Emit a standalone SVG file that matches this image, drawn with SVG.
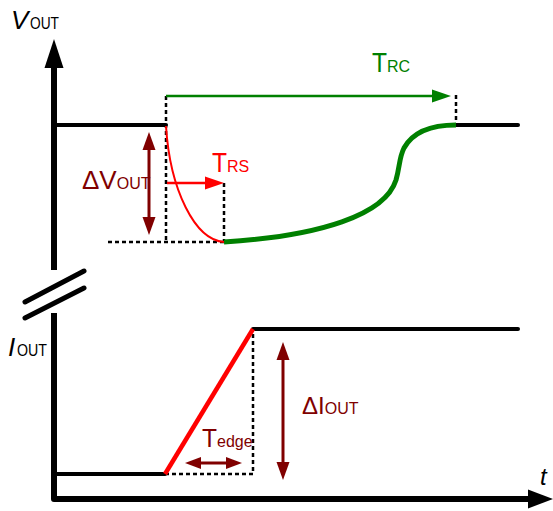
<svg xmlns="http://www.w3.org/2000/svg" width="553" height="511" viewBox="0 0 553 511">
<style>
text{font-family:"Liberation Sans",Arial,sans-serif}
.ax{fill:none;stroke:#000;stroke-width:6;stroke-linejoin:round;stroke-linecap:butt}
.lvl{fill:none;stroke:#000;stroke-width:4;stroke-linecap:round}
.dot{fill:none;stroke:#000;stroke-width:2.5;stroke-dasharray:4 3}
.dr{fill:#800000}
.drl{stroke:#800000;stroke-width:3;fill:none}
.big{font-size:28px}
.sub{font-size:16px}
</style>
<g id="axes">
<path class="ax" d="M54,68 L54,270"/>
<polygon points="54,39 44.5,68 63.5,68" fill="#000"/>
<path class="ax" d="M54,313 L54,499 L530,499"/>
<polygon points="553,499 528,489.5 528,508.5" fill="#000"/>
<path d="M25,302 L84,271 M25,318 L84,288" stroke="#000" stroke-width="5" stroke-linecap="round"/>
<text x="11" y="29" font-size="26" font-style="italic">V</text>
<text x="30" y="29" font-size="16" textLength="29" lengthAdjust="spacingAndGlyphs">OUT</text>
<text x="8" y="356" font-size="26" font-style="italic">I</text>
<text x="17" y="356" font-size="16" textLength="30" lengthAdjust="spacingAndGlyphs">OUT</text>
<text x="540" y="485" font-size="24" font-style="italic">t</text>
</g>
<g id="voltage">
<path class="lvl" d="M56,125 L166,125"/>
<path class="lvl" d="M456,125 L518,125"/>
<path class="dot" d="M166,96 L166,242"/>
<path class="dot" d="M108,242 L224,242"/>
<path class="dot" d="M224,183 L224,242"/>
<path class="dot" d="M456,95 L456,124"/>
<path d="M166,126 C170,190 195,240 224,242" fill="none" stroke="#ff0000" stroke-width="2"/>
<path d="M224,242 C320,236 385,215 396,180 C400,166 399,158 404,148 C414,130 436,125 456,125" fill="none" stroke="#008000" stroke-width="5"/>
</g>
<g id="trc">
<path d="M166,96 L434,96" stroke="#008000" stroke-width="2.5"/>
<polygon points="451,96 432,89.5 432,102.5" fill="#008000"/>
<text x="372" y="72" fill="#008000"><tspan class="big" textLength="15" lengthAdjust="spacingAndGlyphs">T</tspan><tspan class="sub">RC</tspan></text>
</g>
<g id="trs">
<path d="M167,183 L207,183" stroke="#ff0000" stroke-width="2.5"/>
<polygon points="224,183 205,176.5 205,189.5" fill="#ff0000"/>
<text x="212" y="172" fill="#ff0000"><tspan class="big" textLength="15" lengthAdjust="spacingAndGlyphs">T</tspan><tspan class="sub">RS</tspan></text>
</g>
<g id="dvout">
<path class="drl" d="M149,148 L149,219"/>
<polygon class="dr" points="149,132 142.5,150 155.5,150"/>
<polygon class="dr" points="149,235 142.5,217 155.5,217"/>
<text x="82" y="189" fill="#800000"><tspan font-size="26">ΔV</tspan><tspan class="sub">OUT</tspan></text>
</g>
<g id="current">
<path class="lvl" d="M56,474 L165,474"/>
<path class="lvl" d="M253,329 L518,329"/>
<path class="dot" d="M165,474 L253,474 L253,331"/>
<path d="M165,474 L253,329" stroke="#ff0000" stroke-width="4.5"/>
</g>
<g id="diout">
<path class="drl" d="M283,358 L283,464"/>
<polygon class="dr" points="283,342 276.5,360 289.5,360"/>
<polygon class="dr" points="283,480 276.5,462 289.5,462"/>
<text x="302" y="414" fill="#800000"><tspan font-size="24">ΔI</tspan><tspan class="sub">OUT</tspan></text>
</g>
<g id="tedge">
<path class="drl" d="M198,463 L229,463"/>
<polygon class="dr" points="185,463 201,457 201,469"/>
<polygon class="dr" points="242,463 226,457 226,469"/>
<text x="202" y="447" fill="#800000"><tspan font-size="26" textLength="15" lengthAdjust="spacingAndGlyphs">T</tspan><tspan class="sub">edge</tspan></text>
</g>
</svg>
